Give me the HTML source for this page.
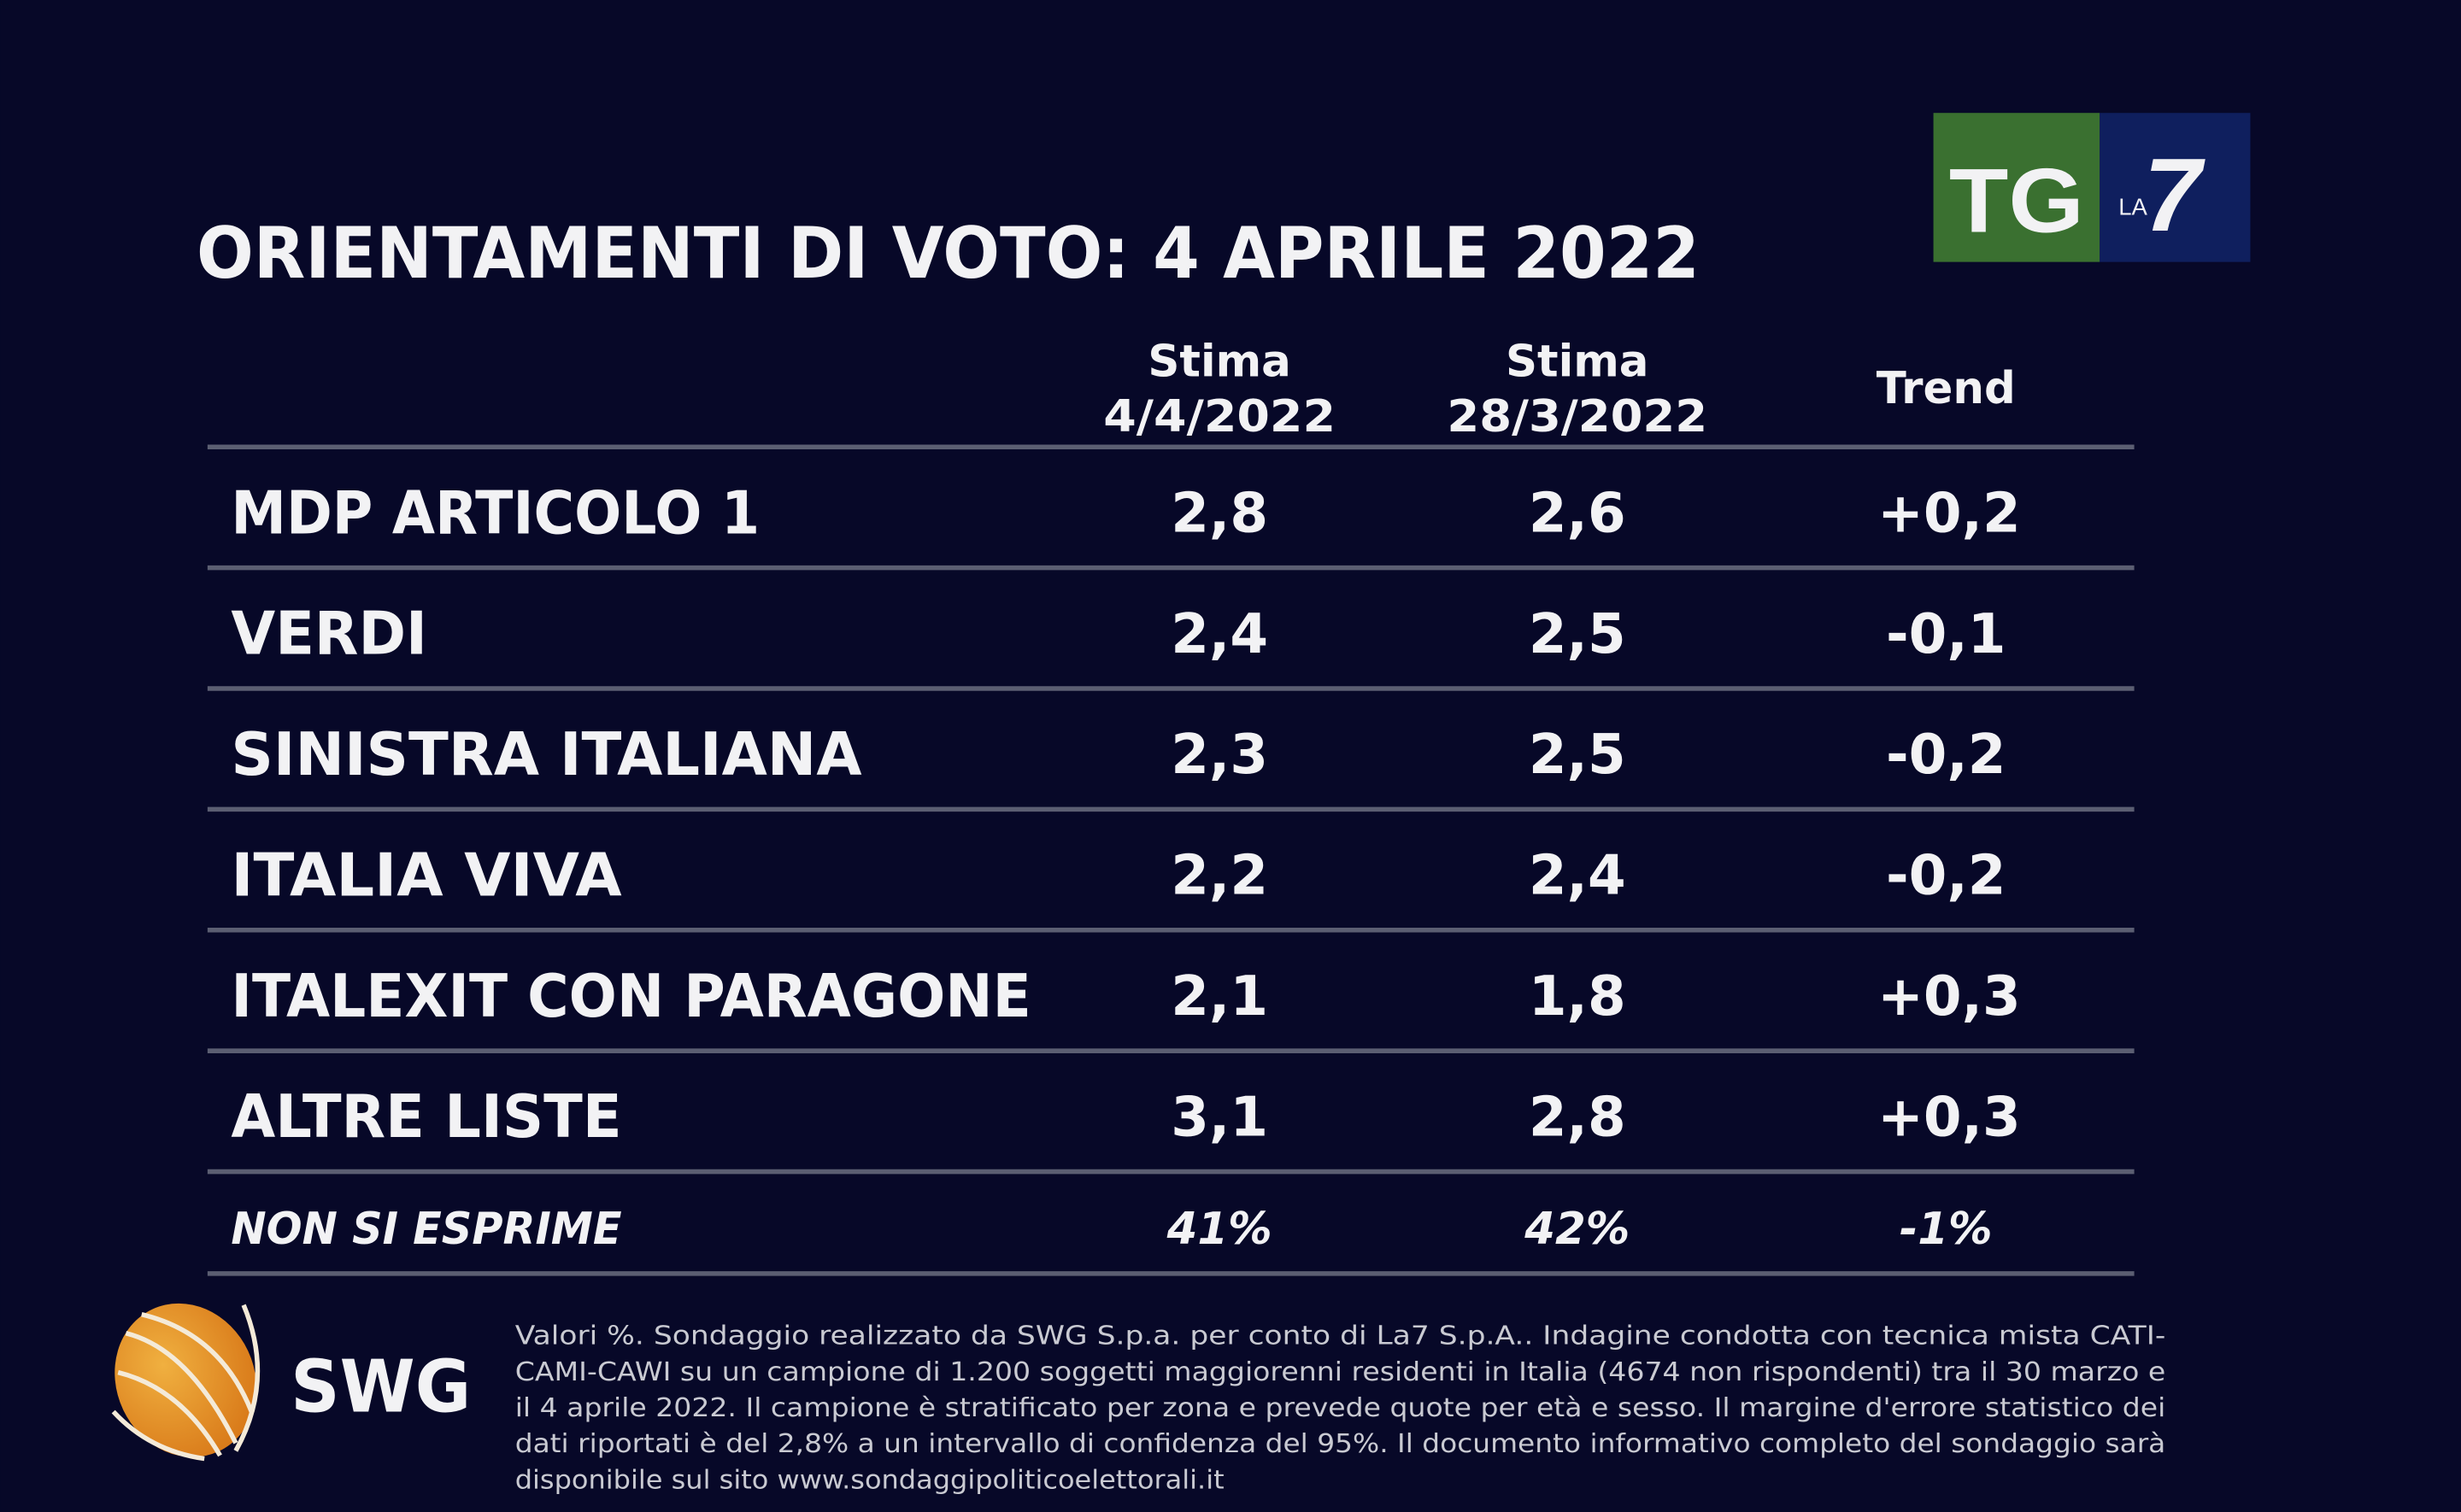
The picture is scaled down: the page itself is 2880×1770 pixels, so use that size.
<!DOCTYPE html>
<html><head><meta charset="utf-8"><style>
html,body{margin:0;padding:0;background:#070828;}
svg{display:block}
text{font-family:"DejaVu Sans","Liberation Sans",sans-serif;fill:#f2f2f4;font-weight:bold}
</style></head><body>
<svg width="2880" height="1770" viewBox="0 0 1568 964" xmlns="http://www.w3.org/2000/svg">
<rect width="1568" height="964" fill="#070828"/>
<rect x="1232" y="72" width="106" height="95" fill="#3a7030"/>
<rect x="1338" y="72" width="96" height="95" fill="#0f1f5e"/>
<text x="1242" y="148" font-size="58" textLength="86" lengthAdjust="spacingAndGlyphs" style="font-family:'Liberation Sans',sans-serif;font-weight:900">TG</text>
<text x="1350" y="137" font-size="15" style="font-weight:normal;font-family:'Liberation Sans',sans-serif">LA</text>
<text x="1366" y="147" font-size="66" style="font-family:'Liberation Sans',sans-serif;font-style:italic">7</text>
<text x="125" y="177" font-size="45" textLength="958" lengthAdjust="spacingAndGlyphs">ORIENTAMENTI DI VOTO: 4 APRILE 2022</text>
<g font-size="28" text-anchor="middle">
<text x="777" y="240">Stima</text><text x="777" y="275" textLength="148" lengthAdjust="spacingAndGlyphs">4/4/2022</text>
<text x="1005" y="240">Stima</text><text x="1005" y="275" textLength="166" lengthAdjust="spacingAndGlyphs">28/3/2022</text>
<text x="1240" y="257">Trend</text>
</g>
<g stroke="#5b5e72" stroke-width="3">
<line x1="132" y1="285" x2="1360" y2="285"/>
<line x1="132" y1="362" x2="1360" y2="362"/>
<line x1="132" y1="439" x2="1360" y2="439"/>
<line x1="132" y1="516" x2="1360" y2="516"/>
<line x1="132" y1="593" x2="1360" y2="593"/>
<line x1="132" y1="670" x2="1360" y2="670"/>
<line x1="132" y1="747" x2="1360" y2="747"/>
<line x1="132" y1="812" x2="1360" y2="812"/>
</g>
<g font-size="38">
<text x="147" y="340" textLength="337" lengthAdjust="spacingAndGlyphs">MDP ARTICOLO 1</text>
<text x="147" y="417" textLength="125" lengthAdjust="spacingAndGlyphs">VERDI</text>
<text x="147" y="494" textLength="402" lengthAdjust="spacingAndGlyphs">SINISTRA ITALIANA</text>
<text x="147" y="571" textLength="249" lengthAdjust="spacingAndGlyphs">ITALIA VIVA</text>
<text x="147" y="648" textLength="510" lengthAdjust="spacingAndGlyphs">ITALEXIT CON PARAGONE</text>
<text x="147" y="725" textLength="249" lengthAdjust="spacingAndGlyphs">ALTRE LISTE</text>
</g>
<g font-size="35" text-anchor="middle">
<text x="777" y="339">2,8</text><text x="1005" y="339">2,6</text><text x="1242" y="339">+0,2</text>
<text x="777" y="416">2,4</text><text x="1005" y="416">2,5</text><text x="1240" y="416">-0,1</text>
<text x="777" y="493">2,3</text><text x="1005" y="493">2,5</text><text x="1240" y="493">-0,2</text>
<text x="777" y="570">2,2</text><text x="1005" y="570">2,4</text><text x="1240" y="570">-0,2</text>
<text x="777" y="647">2,1</text><text x="1005" y="647">1,8</text><text x="1242" y="647">+0,3</text>
<text x="777" y="724">3,1</text><text x="1005" y="724">2,8</text><text x="1242" y="724">+0,3</text>
</g>
<g font-size="28" font-style="italic">
<text x="147" y="793" textLength="249" lengthAdjust="spacingAndGlyphs">NON SI ESPRIME</text>
<text x="777" y="793" text-anchor="middle">41%</text>
<text x="1005" y="793" text-anchor="middle">42%</text>
<text x="1240" y="793" text-anchor="middle">-1%</text>
</g>
<defs><radialGradient id="g" cx="0.4" cy="0.35" r="0.7"><stop offset="0" stop-color="#f0b040"/><stop offset="1" stop-color="#d87818"/></radialGradient></defs>
<ellipse cx="118" cy="880" rx="44" ry="50" fill="url(#g)" transform="rotate(-25 118 880)"/>
<g fill="none" stroke="#f4ead8" stroke-width="3">
<path d="M80 850 Q120 860 150 920"/><path d="M75 875 Q115 885 140 928"/><path d="M90 838 Q140 850 160 900"/>
<path d="M155 832 Q175 880 150 925"/><path d="M72 900 Q95 925 130 930"/>
</g>
<text x="185" y="900" font-size="46" textLength="115" lengthAdjust="spacingAndGlyphs">SWG</text>
<g font-size="16.5">
<text x="328" y="857" textLength="1052" lengthAdjust="spacingAndGlyphs" style="font-weight:normal;fill:#c9cad2">Valori %. Sondaggio realizzato da SWG S.p.a. per conto di La7 S.p.A.. Indagine condotta con tecnica mista CATI-</text>
<text x="328" y="880" textLength="1052" lengthAdjust="spacingAndGlyphs" style="font-weight:normal;fill:#c9cad2">CAMI-CAWI su un campione di 1.200 soggetti maggiorenni residenti in Italia (4674 non rispondenti) tra il 30 marzo e</text>
<text x="328" y="903" textLength="1052" lengthAdjust="spacingAndGlyphs" style="font-weight:normal;fill:#c9cad2">il 4 aprile 2022. Il campione è stratificato per zona e prevede quote per età e sesso. Il margine d'errore statistico dei</text>
<text x="328" y="926" textLength="1052" lengthAdjust="spacingAndGlyphs" style="font-weight:normal;fill:#c9cad2">dati riportati è del 2,8% a un intervallo di confidenza del 95%. Il documento informativo completo del sondaggio sarà</text>
<text x="328" y="949" textLength="452" lengthAdjust="spacingAndGlyphs" style="font-weight:normal;fill:#c9cad2">disponibile sul sito www.sondaggipoliticoelettorali.it</text>
</g>
</svg>
</body></html>
